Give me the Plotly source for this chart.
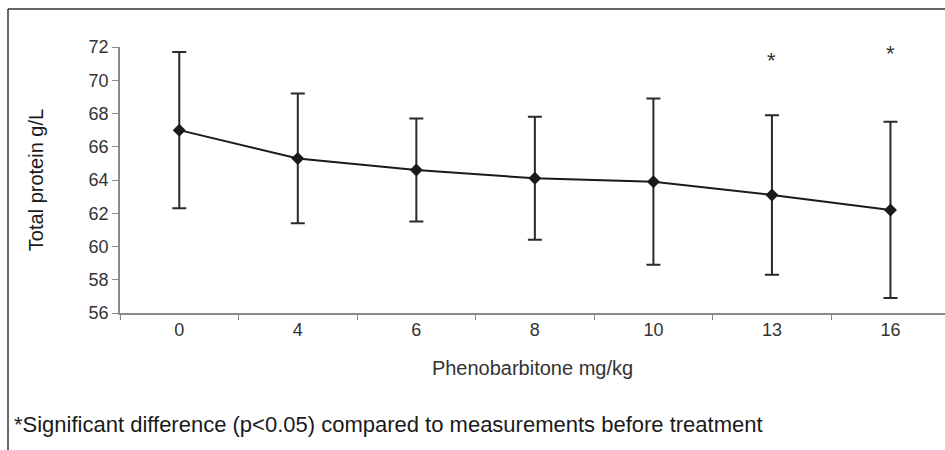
import plotly.graph_objects as go

doses = ["0", "4", "6", "8", "10", "13", "16"]
mean_protein = [67.0, 65.3, 64.6, 64.1, 63.9, 63.1, 62.2]
sd_protein = [4.7, 3.9, 3.1, 3.7, 5.0, 4.8, 5.3]
sig_doses = ["13", "16"]
sig_y = [71.2, 71.6]
y_ticks = [56, 58, 60, 62, 64, 66, 68, 70, 72]

W, H = 945, 450
L, R, T, B = 120, 0, 47, 137
pw, ph = W - L - R, H - T - B
FAM = "Liberation Sans, Arial, sans-serif"

fig = go.Figure()
fig.add_trace(go.Scatter(
    x=doses, y=mean_protein, mode="lines+markers",
    line=dict(color="#1a1a1a", width=2),
    marker=dict(symbol="diamond", size=10, color="#1a1a1a"),
    error_y=dict(type="data", array=sd_protein, visible=True,
                 color="#2a2a2a", thickness=2, width=7),
    showlegend=False, hoverinfo="skip",
))

for d, yv in zip(sig_doses, sig_y):
    fig.add_annotation(x=doses.index(d), y=yv, text="*", showarrow=False,
                       font=dict(size=22, color="#333333", family=FAM))

fig.update_layout(
    width=W, height=H,
    margin=dict(l=L, r=R, t=T, b=B, pad=0),
    paper_bgcolor="white", plot_bgcolor="white",
    font=dict(family=FAM, size=18, color="#333333"),
    xaxis=dict(
        type="category", range=[-0.5, 6.46],
        showline=True, linecolor="#8a8a8a", linewidth=1.5,
        ticks="outside", tickson="boundaries", ticklen=5, tickcolor="#8a8a8a",
        showgrid=False, zeroline=False,
        tickfont=dict(size=18, color="#333333"),
        title=dict(text="Phenobarbitone mg/kg", standoff=22,
                   font=dict(size=20, color="#333333")),
    ),
    yaxis=dict(
        range=[56, 72], tickvals=y_ticks,
        showline=True, linecolor="#8a8a8a", linewidth=1.5,
        ticks="outside", ticklen=6, tickcolor="#8a8a8a",
        showgrid=False, zeroline=False,
        tickfont=dict(size=18, color="#333333"),
        title=dict(text="Total protein g/L", standoff=40,
                   font=dict(size=20, color="#1a1a1a")),
    ),
)

# Outer frame (top and left edges; the rest lies outside the picture)
x_left = (8 - L) / pw
y_top = (H - B - 9) / ph
fig.add_shape(type="line", xref="paper", yref="paper",
              x0=x_left, x1=(W + 5 - L) / pw, y0=y_top, y1=y_top,
              line=dict(color="#333333", width=1.5))
fig.add_shape(type="line", xref="paper", yref="paper",
              x0=x_left, x1=x_left, y0=y_top, y1=-(H + 5 - (H - B)) / ph,
              line=dict(color="#333333", width=1.5))

fig.add_annotation(xref="paper", yref="paper",
                   x=(12 - L) / pw, y=-(424 - (H - B)) / ph,
                   xanchor="left", yanchor="middle", showarrow=False,
                   text="*Significant difference (p<0.05) compared to measurements before treatment",
                   font=dict(size=22, color="#1a1a1a", family=FAM))

fig.write_html("out.html", config={"displayModeBar": False},
               post_script="document.body.style.margin='0';document.body.style.overflow='hidden';")
